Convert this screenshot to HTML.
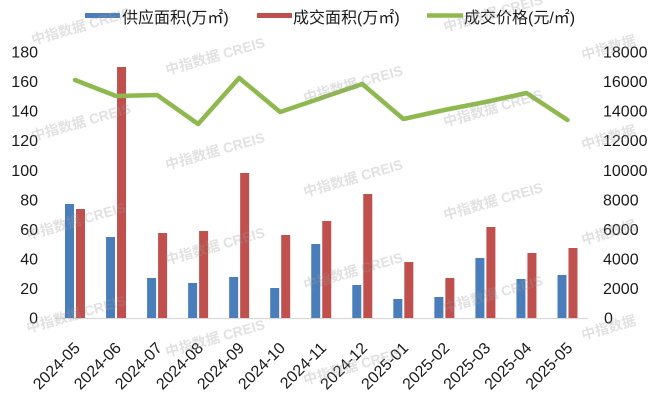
<!DOCTYPE html>
<html>
<head>
<meta charset="utf-8">
<style>
html,body{margin:0;padding:0;background:#fff;}
body{width:660px;height:401px;overflow:hidden;}
svg{display:block;}
text{font-family:"Liberation Sans","Noto Sans CJK SC",sans-serif;}
</style>
</head>
<body>
<svg width="660" height="401" viewBox="0 0 660 401" xmlns="http://www.w3.org/2000/svg">
<rect width="660" height="401" fill="#fff"/>

<!-- axis line -->
<line x1="55" y1="318.5" x2="588" y2="318.5" stroke="#d9d9d9" stroke-width="1.2"/>

<!-- bars -->
<g fill="#4a7ebb">
<rect x="65" y="204" width="9" height="114"/>
<rect x="106.04" y="237" width="9" height="81"/>
<rect x="147.08" y="278" width="9" height="40"/>
<rect x="188.12" y="283" width="9" height="35"/>
<rect x="229.16" y="277" width="9" height="41"/>
<rect x="270.2" y="288" width="9" height="30"/>
<rect x="311.24" y="244" width="9" height="74"/>
<rect x="352.28" y="285" width="9" height="33"/>
<rect x="393.32" y="299" width="9" height="19"/>
<rect x="434.36" y="297" width="9" height="21"/>
<rect x="475.4" y="258" width="9" height="60"/>
<rect x="516.44" y="279" width="9" height="39"/>
<rect x="557.48" y="275" width="9" height="43"/>
</g>
<g fill="#c0504d">
<rect x="76" y="209" width="9" height="109"/>
<rect x="117.04" y="67" width="9" height="251"/>
<rect x="158.08" y="233" width="9" height="85"/>
<rect x="199.12" y="231" width="9" height="87"/>
<rect x="240.16" y="173" width="9" height="145"/>
<rect x="281.2" y="235" width="9" height="83"/>
<rect x="322.24" y="221" width="9" height="97"/>
<rect x="363.28" y="194" width="9" height="124"/>
<rect x="404.32" y="262" width="9" height="56"/>
<rect x="445.36" y="278" width="9" height="40"/>
<rect x="486.4" y="227" width="9" height="91"/>
<rect x="527.44" y="253" width="9" height="65"/>
<rect x="568.48" y="248" width="9" height="70"/>
</g>

<!-- price line -->
<polyline fill="none" stroke="#8fb84e" stroke-width="4.5" stroke-linejoin="round" stroke-linecap="round"
points="75,80 116.04,96 157.08,95 198.12,124 239.16,78 280.2,112 321.24,98 362.28,84 403.32,119 444.36,110 485.4,102 526.44,93 567.48,120"/>

<!-- left axis labels -->
<g font-size="16" fill="#1a1a1a" text-anchor="end">
<text x="38" y="323.5">0</text>
<text x="38" y="294">20</text>
<text x="38" y="264.4">40</text>
<text x="38" y="234.8">60</text>
<text x="38" y="205.3">80</text>
<text x="38" y="175.8">100</text>
<text x="38" y="146.2">120</text>
<text x="38" y="116.6">140</text>
<text x="38" y="87.1">160</text>
<text x="38" y="57.5">180</text>
</g>
<!-- right axis labels -->
<g font-size="16" fill="#1a1a1a" text-anchor="start">
<text x="604" y="323.5">0</text>
<text x="603" y="294">2000</text>
<text x="603" y="264.4">4000</text>
<text x="603" y="234.8">6000</text>
<text x="603" y="205.3">8000</text>
<text x="603" y="175.8">10000</text>
<text x="603" y="146.2">12000</text>
<text x="603" y="116.6">14000</text>
<text x="603" y="87.1">16000</text>
<text x="603" y="57.5">18000</text>
</g>

<!-- x labels -->
<g font-size="16" fill="#1a1a1a" text-anchor="end">
<text transform="translate(81,349) rotate(-45)">2024-05</text>
<text transform="translate(122.04,349) rotate(-45)">2024-06</text>
<text transform="translate(163.08,349) rotate(-45)">2024-07</text>
<text transform="translate(204.12,349) rotate(-45)">2024-08</text>
<text transform="translate(245.16,349) rotate(-45)">2024-09</text>
<text transform="translate(286.2,349) rotate(-45)">2024-10</text>
<text transform="translate(327.24,349) rotate(-45)">2024-11</text>
<text transform="translate(368.28,349) rotate(-45)">2024-12</text>
<text transform="translate(409.32,349) rotate(-45)">2025-01</text>
<text transform="translate(450.36,349) rotate(-45)">2025-02</text>
<text transform="translate(491.4,349) rotate(-45)">2025-03</text>
<text transform="translate(532.44,349) rotate(-45)">2025-04</text>
<text transform="translate(573.48,349) rotate(-45)">2025-05</text>
</g>

<!-- legend -->
<rect x="85" y="13" width="35" height="5" fill="#4a7ebb"/>
<text x="122" y="23" font-size="16" fill="#1a1a1a">供应面积(万㎡)</text>
<rect x="257" y="13" width="35" height="5" fill="#c0504d"/>
<text x="293" y="23" font-size="16" fill="#1a1a1a">成交面积(万㎡)</text>
<line x1="427" y1="15.5" x2="463" y2="15.5" stroke="#8fb84e" stroke-width="4.5"/>
<text x="464" y="23" font-size="16" fill="#1a1a1a">成交价格(元/㎡)</text>

<!-- watermarks -->
<g font-size="14" font-weight="bold" fill="#9a9a9a" fill-opacity="0.3">
<text transform="translate(33,45) rotate(-16)">中指数据  CREIS</text>
<text transform="translate(33,141) rotate(-16)">中指数据  CREIS</text>
<text transform="translate(28,240) rotate(-16)">中指数据  CREIS</text>
<text transform="translate(28,333) rotate(-16)">中指数据  CREIS</text>
<text transform="translate(167,75) rotate(-16)">中指数据  CREIS</text>
<text transform="translate(167,170) rotate(-16)">中指数据  CREIS</text>
<text transform="translate(167,265) rotate(-16)">中指数据  CREIS</text>
<text transform="translate(167,357) rotate(-16)">中指数据  CREIS</text>
<text transform="translate(305,103) rotate(-16)">中指数据  CREIS</text>
<text transform="translate(305,197) rotate(-16)">中指数据  CREIS</text>
<text transform="translate(305,290) rotate(-16)">中指数据  CREIS</text>
<text transform="translate(305,385) rotate(-16)">中指数据  CREIS</text>
<text transform="translate(445,32) rotate(-16)">中指数据  CREIS</text>
<text transform="translate(445,127) rotate(-16)">中指数据  CREIS</text>
<text transform="translate(445,220) rotate(-16)">中指数据  CREIS</text>
<text transform="translate(445,313) rotate(-16)">中指数据  CREIS</text>
<text transform="translate(583,60) rotate(-16)">中指数据</text>
<text transform="translate(583,150) rotate(-16)">中指数据</text>
<text transform="translate(583,245) rotate(-16)">中指数据</text>
<text transform="translate(583,340) rotate(-16)">中指数据</text>
</g>
</svg>
</body>
</html>
